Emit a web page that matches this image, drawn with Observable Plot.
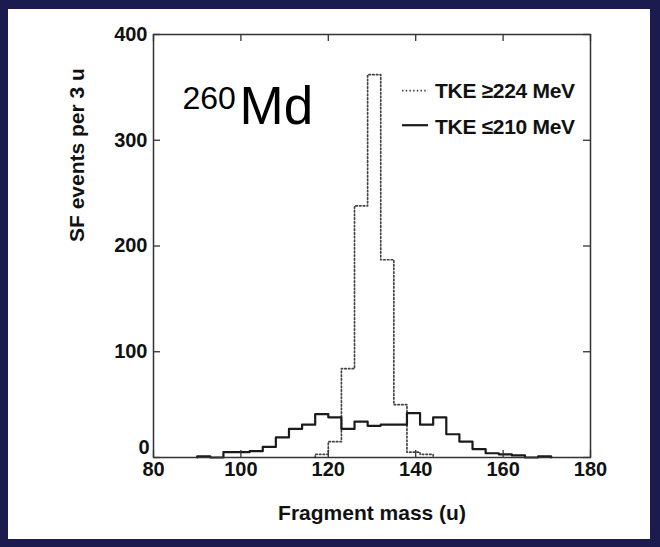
<!DOCTYPE html>
<html><head><meta charset="utf-8">
<script src="https://cdn.jsdelivr.net/npm/d3@7"></script>
<script src="https://cdn.jsdelivr.net/npm/@observablehq/plot@0.6"></script>
<style>
html,body{margin:0;padding:0;background:#1c1b4f;width:660px;height:547px;overflow:hidden}
#panel{position:absolute;left:8px;top:9px;width:642px;height:530px;background:#fff}
</style></head><body><div id="panel"></div>
<script>
// ---- data ----
const xTicks = [80, 100, 120, 140, 160, 180];
const yTicks = [0, 100, 200, 300, 400];
const binWidth = 3;
// TKE <= 210 MeV (solid)
const lowTkeStarts = [90, 93, 96, 99, 102, 105, 108, 111, 114, 117, 120, 123, 126, 129, 132, 135, 138, 141, 144, 147, 150, 153, 156, 159, 162, 165, 168];
const lowTkeCounts = [1, 0, 5, 5, 6, 10, 19, 27, 31, 41, 38, 27, 34, 30, 31, 31, 42, 31, 38, 22, 15, 8, 4, 3, 2, 0, 1];
// TKE >= 224 MeV (dotted)
const highTkeStarts = [117, 120, 123, 126, 129, 132, 135, 138, 141];
const highTkeCounts = [3, 15, 84, 238, 362, 187, 50, 5, 3];
const legendLabels = ["TKE \u2265224 MeV", "TKE \u2264210 MeV"];
const nuclideMass = "260";
const nuclideSymbol = "Md";
const xTitle = "Fragment mass (u)";
const yTitle = "SF events per 3 u";

// ---- styles ----
const FONT = "'Liberation Sans', Arial, Helvetica, sans-serif";
const solidStyle = {stroke: "#1a1a1a", strokeWidth: 2.2, dash: null};
const dottedStyle = {stroke: "#444", strokeWidth: 1.7, dash: "1.5,2.2"};
const legendStyles = [dottedStyle, solidStyle];

function steps(starts, counts) {
  const pts = [{m: starts[0], c: 0}];
  starts.forEach((s, i) => pts.push({m: s, c: counts[i]}));
  const end = starts[starts.length - 1] + binWidth;
  pts.push({m: end, c: counts[counts.length - 1]});
  pts.push({m: end, c: 0});
  return pts;
}

const W = 642, H = 530, ML = 145, MR = 60, MT = 25, MB = 82;
const frameW = W - ML - MR, frameH = H - MT - MB, tickLen = 7;

function legend() {
  const right = W - MR, top = MT;
  const g = d3.create("svg:g");
  legendLabels.forEach((label, i) => {
    const st = legendStyles[i];
    const yRow = top + 56.7 + i * 34.5;
    const ln = g.append("line")
      .attr("x1", right - 188).attr("x2", right - 162)
      .attr("y1", yRow).attr("y2", yRow)
      .attr("stroke", st.stroke).attr("stroke-width", st.strokeWidth);
    if (st.dash) ln.attr("stroke-dasharray", st.dash);
    g.append("text")
      .attr("x", right - 155).attr("y", yRow + (i === 0 ? 0 : 1.5))
      .attr("dy", "0.35em")
      .attr("text-anchor", "start")
      .attr("font-size", 21).attr("font-weight", "bold")
      .attr("font-family", FONT)
      .attr("letter-spacing", "-0.3")
      .attr("fill", "#111")
      .text(label);
  });
  return g.node();
}

const plot = Plot.plot({
  width: W, height: H,
  marginLeft: ML, marginRight: MR, marginTop: MT, marginBottom: MB,
  style: {fontFamily: FONT, fontWeight: "bold", color: "#111", background: "transparent", overflow: "visible"},
  x: {domain: [80, 180], axis: null},
  y: {domain: [0, 400], axis: null},
  marks: [
    Plot.line(steps(highTkeStarts, highTkeCounts), {x: "m", y: "c", curve: "step-after",
      stroke: dottedStyle.stroke, strokeWidth: dottedStyle.strokeWidth, strokeDasharray: dottedStyle.dash}),
    Plot.line(steps(lowTkeStarts, lowTkeCounts), {x: "m", y: "c", curve: "step-after",
      stroke: solidStyle.stroke, strokeWidth: solidStyle.strokeWidth}),
    Plot.frame({stroke: "#333", strokeWidth: 1.5}),
    Plot.tickX(xTicks, {x: d => d, insetTop: frameH - tickLen, stroke: "#333", strokeWidth: 1.3}),
    Plot.tickX(xTicks, {x: d => d, insetBottom: frameH - tickLen, stroke: "#333", strokeWidth: 1.3}),
    Plot.tickY(yTicks, {y: d => d, insetRight: frameW - tickLen, stroke: "#333", strokeWidth: 1.3}),
    Plot.tickY(yTicks, {y: d => d, insetLeft: frameW - tickLen, stroke: "#333", strokeWidth: 1.3}),
    Plot.text(xTicks, {x: d => d, text: d => String(d), frameAnchor: "bottom", lineAnchor: "top", dy: 4, fontSize: 20, fill: "#111"}),
    Plot.text(yTicks.filter(d => d !== 0), {y: d => d, text: d => String(d), frameAnchor: "left", textAnchor: "end", lineAnchor: "middle", dx: -6, fontSize: 20, fill: "#111"}),
    Plot.text(yTicks.filter(d => d === 0), {y: d => d, text: d => String(d), frameAnchor: "left", textAnchor: "end", lineAnchor: "middle", dx: -4, dy: -10, fontSize: 20, fill: "#111"}),
    Plot.text([xTitle], {text: d => d, frameAnchor: "bottom", lineAnchor: "middle", dy: 55.5, fontSize: 21, fill: "#111"}),
    Plot.text([yTitle], {text: d => d, frameAnchor: "left", rotate: -90, lineAnchor: "middle", dx: -76.3, dy: -4, fontSize: 21, fill: "#111"}),
    Plot.text([nuclideMass], {text: d => d, frameAnchor: "top-left", textAnchor: "start", lineAnchor: "top", dx: 29, dy: 51.5, fontSize: 32, fontWeight: "normal", fill: "#000"}),
    Plot.text([nuclideSymbol], {text: d => d, frameAnchor: "top-left", textAnchor: "start", lineAnchor: "top", dx: 86, dy: 51.5, fontSize: 53, fontWeight: "normal", fill: "#000"}),
    legend
  ]
});
document.getElementById("panel").appendChild(plot);
</script>
</body></html>
